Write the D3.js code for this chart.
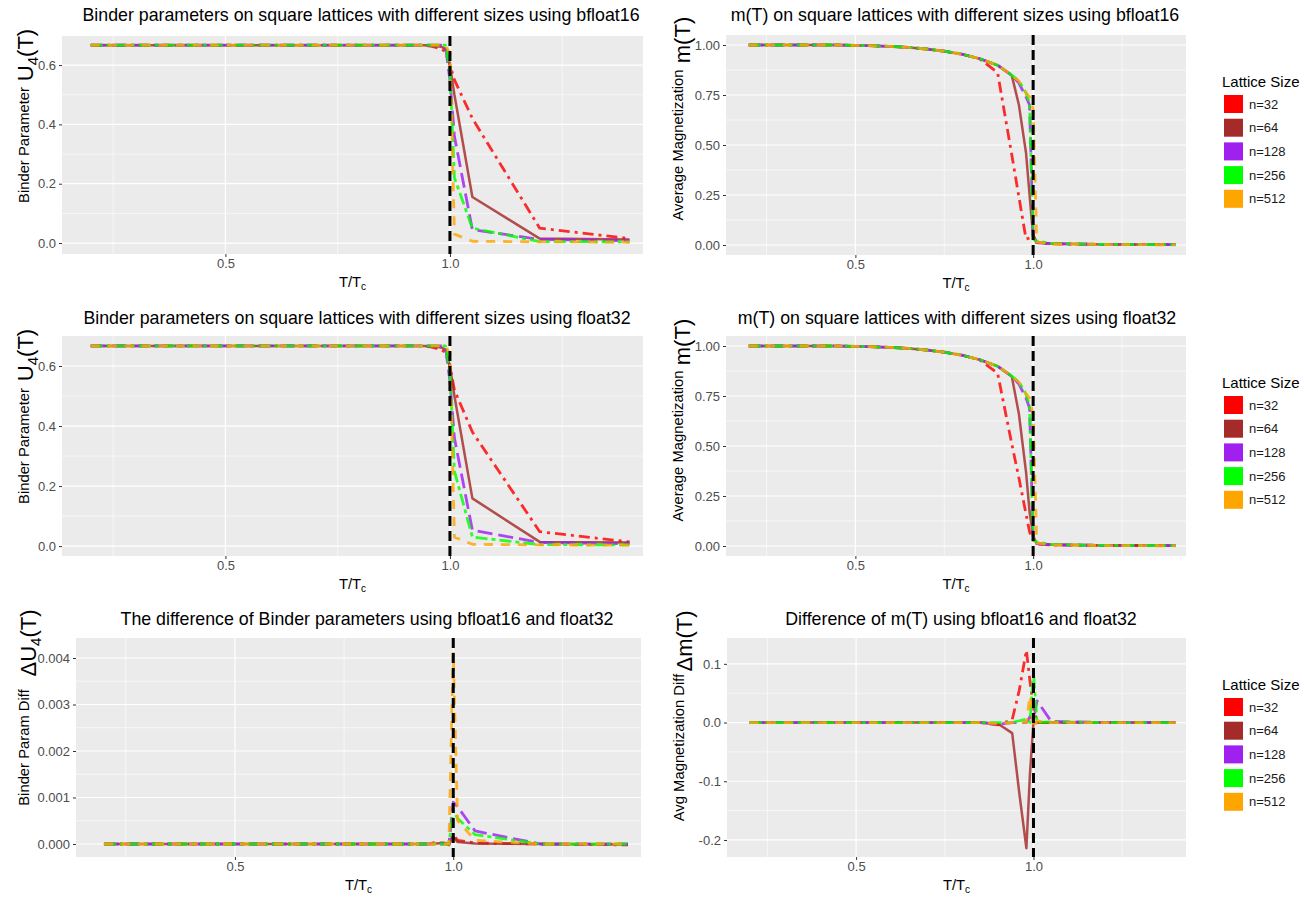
<!DOCTYPE html>
<html>
<head>
<meta charset="utf-8">
<script src="https://cdn.jsdelivr.net/npm/d3@7"></script>
<style>
  body { margin: 0; background: #ffffff; }
  svg { font-family: "Liberation Sans", Arial, Helvetica, sans-serif; }
</style>
</head>
<body>
<svg id="fig" width="1304" height="899"></svg>
<script>
// Reduced temperature grid T/Tc shared by every curve
const tOverTc = [0.2, 0.25, 0.3, 0.35, 0.4, 0.45, 0.5, 0.55, 0.6, 0.65, 0.7, 0.75, 0.8, 0.85,
                 0.9, 0.94, 0.96, 0.98, 0.99, 1.0, 1.01, 1.05, 1.2, 1.4];

const sizeLabels = ["n=32", "n=64", "n=128", "n=256", "n=512"];
const sizeColors = ["#FF0000", "#A52A2A", "#A020F0", "#00FF00", "#FFA500"];

// Binder parameter U4(T), bfloat16 runs (one row per lattice size)
const binderBf16 = [
  [0.667,0.667,0.667,0.667,0.667,0.667,0.667,0.667,0.667,0.667,0.667,0.667,0.667,0.667,0.667,0.667,0.663,0.655,0.645,0.600,0.550,0.420,0.050,0.015],
  [0.667,0.667,0.667,0.667,0.667,0.667,0.667,0.667,0.667,0.667,0.667,0.667,0.667,0.667,0.667,0.667,0.666,0.662,0.655,0.600,0.500,0.155,0.015,0.012],
  [0.667,0.667,0.667,0.667,0.667,0.667,0.667,0.667,0.667,0.667,0.667,0.667,0.667,0.667,0.667,0.667,0.667,0.667,0.665,0.550,0.360,0.045,0.012,0.008],
  [0.667,0.667,0.667,0.667,0.667,0.667,0.667,0.667,0.667,0.667,0.667,0.667,0.667,0.667,0.667,0.667,0.667,0.667,0.667,0.580,0.220,0.050,0.005,0.004],
  [0.667,0.667,0.667,0.667,0.667,0.667,0.667,0.667,0.667,0.667,0.667,0.667,0.667,0.667,0.667,0.667,0.667,0.667,0.667,0.640,0.030,0.006,0.004,0.003]
];

// Binder parameter U4(T), float32 runs
const binderF32 = [
  [0.667,0.667,0.667,0.667,0.667,0.667,0.667,0.667,0.667,0.667,0.667,0.667,0.667,0.667,0.667,0.667,0.663,0.655,0.645,0.600,0.520,0.380,0.048,0.014],
  [0.667,0.667,0.667,0.667,0.667,0.667,0.667,0.667,0.667,0.667,0.667,0.667,0.667,0.667,0.667,0.667,0.666,0.662,0.655,0.600,0.500,0.159,0.014,0.012],
  [0.667,0.667,0.667,0.667,0.667,0.667,0.667,0.667,0.667,0.667,0.667,0.667,0.667,0.667,0.667,0.667,0.667,0.667,0.665,0.550,0.360,0.053,0.012,0.008],
  [0.667,0.667,0.667,0.667,0.667,0.667,0.667,0.667,0.667,0.667,0.667,0.667,0.667,0.667,0.667,0.667,0.667,0.667,0.667,0.580,0.250,0.030,0.005,0.004],
  [0.667,0.667,0.667,0.667,0.667,0.667,0.667,0.667,0.667,0.667,0.667,0.667,0.667,0.667,0.667,0.667,0.667,0.667,0.667,0.640,0.030,0.006,0.004,0.003]
];

// Average magnetization m(T), bfloat16 runs
const magBf16 = [
  [1.000,1.000,1.000,1.000,1.000,1.000,0.998,0.996,0.993,0.988,0.980,0.969,0.954,0.931,0.862,0.450,0.240,0.030,0.035,0.050,0.012,0.006,0.003,0.002],
  [1.000,1.000,1.000,1.000,1.000,1.000,0.998,0.996,0.993,0.988,0.980,0.969,0.954,0.931,0.899,0.847,0.700,0.460,0.250,0.040,0.012,0.007,0.003,0.002],
  [1.000,1.000,1.000,1.000,1.000,1.000,0.998,0.996,0.993,0.988,0.980,0.969,0.954,0.931,0.899,0.849,0.810,0.740,0.700,0.040,0.012,0.006,0.003,0.002],
  [1.000,1.000,1.000,1.000,1.000,1.000,0.998,0.996,0.993,0.988,0.980,0.969,0.954,0.931,0.899,0.849,0.820,0.760,0.710,0.030,0.020,0.008,0.003,0.002],
  [1.000,1.000,1.000,1.000,1.000,1.000,0.998,0.996,0.993,0.988,0.980,0.969,0.954,0.931,0.899,0.849,0.820,0.760,0.740,0.680,0.015,0.005,0.002,0.001]
];

// Average magnetization m(T), float32 runs
const magF32 = [
  [1.000,1.000,1.000,1.000,1.000,1.000,0.998,0.996,0.993,0.988,0.980,0.969,0.954,0.931,0.864,0.510,0.340,0.160,0.070,0.030,0.010,0.005,0.003,0.002],
  [1.000,1.000,1.000,1.000,1.000,1.000,0.998,0.996,0.993,0.988,0.980,0.969,0.954,0.931,0.899,0.847,0.660,0.370,0.170,0.050,0.012,0.007,0.003,0.002],
  [1.000,1.000,1.000,1.000,1.000,1.000,0.998,0.996,0.993,0.988,0.980,0.969,0.954,0.931,0.899,0.849,0.810,0.740,0.690,0.040,0.012,0.006,0.003,0.002],
  [1.000,1.000,1.000,1.000,1.000,1.000,0.998,0.996,0.993,0.988,0.980,0.969,0.954,0.931,0.899,0.849,0.820,0.760,0.700,0.030,0.020,0.008,0.003,0.002],
  [1.000,1.000,1.000,1.000,1.000,1.000,0.998,0.996,0.993,0.988,0.980,0.969,0.954,0.931,0.899,0.849,0.820,0.760,0.740,0.660,0.015,0.005,0.002,0.001]
];

// Binder parameter difference (bfloat16 - float32)
const binderDiff = [
  [0,0,0,0,0,0,0,0,0,0,0,0,0,0,0,0,0.00003,0.00002,-0.00002,0.00020,0.00008,0.00002,0,-0.00002],
  [0,0,0,0,0,0,0,0,0,0,0,0,0,0,0,0,0.00001,0.00002,-0.00001,0.00016,0.00004,0.00001,0,-0.00001],
  [0,0,0,0,0,0,0,0,0,0,0,0,0,0,0,0,0,0,0,0.00090,0.00080,0.00028,0,0],
  [0,0,0,0,0,0,0,0,0,0,0,0,0,0,0,0,0,0,0,0.00072,0.00055,0.00020,0,0],
  [0,0,0,0,0,0,0,0,0,0,0,0,0,0,0,0,0,0,0,0.00410,0.00050,0.00008,0,0]
];

// Magnetization difference (bfloat16 - float32)
const magDiff = [
  [0,0,0,0,0,0,0,0,0,0,0,0,0,0,-0.004,0.005,0.055,0.123,0.071,0.025,0,0,0,0],
  [0,0,0,0,0,0,0,0,0,0,0,0,0,0,-0.002,-0.018,-0.120,-0.214,-0.088,0,0,0,0,0],
  [0,0,0,0,0,0,0,0,0,0,0,0,0,0,-0.003,0,0,0,0.010,0.005,0.037,0.002,0,0],
  [0,0,0,0,0,0,0,0,0,0,0,0,0,0,0,0,0.003,0.006,0,0.085,0,0.001,0,0],
  [0,0,0,0,0,0,0,0,0,0,0,0,0,0,-0.002,0,0.001,0,0.045,-0.010,0.003,0,0,0]
];

const xMajor = [0.5, 1.0];
const xMinor = [0.25, 0.75, 1.25];
const tCritical = 1.0;

const binderTicks = [0, 0.2, 0.4, 0.6];
const magTicks = [0, 0.25, 0.5, 0.75, 1.0];
const binderDiffTicks = [0, 0.001, 0.002, 0.003, 0.004];
const magDiffTicks = [-0.2, -0.1, 0, 0.1];

// ---------------------------------------------------------------------------
const svg = d3.select("#fig");
const xDomain = [0.136, 1.43];
const dashes = ["11,5,3,5", null, "15,6", "12,4,4,4", "9,8"];
const widths = [2.8, 2.5, 2.8, 2.8, 2.8];
const FONT_TITLE = 17.8, FONT_AXIS = 14.8, FONT_TICK = 13, FONT_LEGEND_TITLE = 15;

function midpoints(ticks) {
  const out = [];
  for (let i = 0; i < ticks.length - 1; i++) out.push((ticks[i] + ticks[i + 1]) / 2);
  return out;
}

function drawPanel(p) {
  const x = d3.scaleLinear().domain(xDomain).range([p.left, p.right]);
  const y = d3.scaleLinear().domain(p.yDomain).range([p.bottom, p.top]);
  const g = svg.append("g");

  g.append("rect")
    .attr("x", p.left).attr("y", p.top)
    .attr("width", p.right - p.left).attr("height", p.bottom - p.top)
    .attr("fill", "#EBEBEB");

  // grid
  const grid = g.append("g");
  grid.selectAll(".ymin").data(midpoints(p.yTicks)).join("line")
    .attr("x1", p.left).attr("x2", p.right)
    .attr("y1", d => y(d)).attr("y2", d => y(d))
    .attr("stroke", "#fff").attr("stroke-width", 0.6);
  grid.selectAll(".xmin").data(xMinor).join("line")
    .attr("y1", p.top).attr("y2", p.bottom)
    .attr("x1", d => x(d)).attr("x2", d => x(d))
    .attr("stroke", "#fff").attr("stroke-width", 0.6);
  grid.selectAll(".ymaj").data(p.yTicks).join("line")
    .attr("x1", p.left).attr("x2", p.right)
    .attr("y1", d => y(d)).attr("y2", d => y(d))
    .attr("stroke", "#fff").attr("stroke-width", 1.2);
  grid.selectAll(".xmaj").data(xMajor).join("line")
    .attr("y1", p.top).attr("y2", p.bottom)
    .attr("x1", d => x(d)).attr("x2", d => x(d))
    .attr("stroke", "#fff").attr("stroke-width", 1.2);

  // axes
  const yAxis = d3.axisLeft(y).tickValues(p.yTicks).tickSize(3).tickPadding(3)
    .tickFormat(d => d.toFixed(p.digits));
  const ya = g.append("g").attr("transform", `translate(${p.left},0)`).call(yAxis);
  const xAxis = d3.axisBottom(x).tickValues(xMajor).tickSize(3).tickPadding(2)
    .tickFormat(d => d.toFixed(1));
  const xa = g.append("g").attr("transform", `translate(0,${p.bottom})`).call(xAxis);
  [ya, xa].forEach(a => {
    a.select(".domain").remove();
    a.selectAll(".tick line").attr("stroke", "#333333").attr("stroke-width", 1);
    a.selectAll(".tick text").attr("fill", "#4D4D4D").attr("font-size", FONT_TICK)
      .attr("font-family", "Liberation Sans, Arial, sans-serif");
  });

  // curves
  const line = d3.line().x(d => x(d[0])).y(d => y(d[1]));
  p.series.forEach((vals, i) => {
    const pts = tOverTc.map((t, k) => [t, vals[k]]);
    g.append("path").datum(pts)
      .attr("d", line)
      .attr("fill", "none")
      .attr("stroke", sizeColors[i])
      .attr("stroke-opacity", 0.82)
      .attr("stroke-width", widths[i])
      .attr("stroke-linejoin", "round")
      .attr("stroke-dasharray", dashes[i]);
  });

  // critical temperature marker
  g.append("line")
    .attr("x1", x(tCritical)).attr("x2", x(tCritical))
    .attr("y1", p.top).attr("y2", p.bottom)
    .attr("stroke", "#000").attr("stroke-width", 3)
    .attr("stroke-dasharray", "10,5");

  // title
  g.append("text").attr("x", p.titleX).attr("y", p.titleY)
    .attr("text-anchor", "middle").attr("font-size", FONT_TITLE).attr("fill", "#000")
    .text(p.title);

  // x axis title T/Tc
  const xt = g.append("text").attr("x", (p.left + p.right) / 2).attr("y", p.bottom + 33)
    .attr("text-anchor", "middle").attr("font-size", FONT_AXIS).attr("fill", "#000");
  xt.append("tspan").text("T/T");
  xt.append("tspan").attr("dy", 3).attr("font-size", 10).text("c");

  // y axis title
  g.append("text")
    .attr("transform", `translate(${p.yTitleX},${(p.top + p.bottom) / 2}) rotate(-90)`)
    .attr("text-anchor", "middle").attr("font-size", FONT_AXIS).attr("fill", "#000")
    .text(p.yTitle);

  // symbol label beside the axis
  const sym = g.append("text")
    .attr("transform", `translate(${p.symX},${p.symY}) rotate(-90)`)
    .attr("text-anchor", "middle").attr("font-size", 22).attr("fill", "#000");
  sym.append("tspan").text(p.sym[0]);
  if (p.sym[1]) sym.append("tspan").attr("dy", 5).attr("font-size", 15).text(p.sym[1]);
  sym.append("tspan").attr("dy", p.sym[1] ? -5 : 0).text(p.sym[2]);

  if (p.legend) drawLegend(p.top);
}

function drawLegend(top) {
  const lg = svg.append("g").attr("transform", `translate(1222,${top})`);
  lg.append("text").attr("x", 0).attr("y", 52).attr("font-size", FONT_LEGEND_TITLE).attr("fill", "#000")
    .text("Lattice Size");
  sizeLabels.forEach((lab, i) => {
    const cy = 69 + i * 23.7;
    lg.append("rect").attr("x", 2).attr("y", cy - 9).attr("width", 19).attr("height", 18)
      .attr("fill", sizeColors[i]);
    lg.append("text").attr("x", 27).attr("y", cy + 4.5).attr("font-size", FONT_TICK)
      .attr("fill", "#1a1a1a").text(lab);
  });
}

const panels = [
  { left: 62, right: 643, top: 36, bottom: 254, yDomain: [-0.037, 0.698], yTicks: binderTicks, digits: 1,
    series: binderBf16, title: "Binder parameters on square lattices with different sizes using bfloat16",
    titleX: 361, titleY: 21, yTitle: "Binder Parameter", yTitleX: 29, sym: ["U", "4", "(T)"], symX: 33, symY: 55 },
  { left: 726, right: 1186, top: 35, bottom: 255, yDomain: [-0.05, 1.05], yTicks: magTicks, digits: 2,
    series: magBf16, title: "m(T) on square lattices with different sizes using bfloat16",
    titleX: 955, titleY: 21, yTitle: "Average Magnetization", yTitleX: 683, sym: ["m", null, "(T)"], symX: 690, symY: 40, legend: true },
  { left: 62, right: 643, top: 336, bottom: 556, yDomain: [-0.033, 0.7], yTicks: binderTicks, digits: 1,
    series: binderF32, title: "Binder parameters on square lattices with different sizes using float32",
    titleX: 357, titleY: 324, yTitle: "Binder Parameter", yTitleX: 29, sym: ["U", "4", "(T)"], symX: 33, symY: 355 },
  { left: 726, right: 1186, top: 336, bottom: 556, yDomain: [-0.05, 1.05], yTicks: magTicks, digits: 2,
    series: magF32, title: "m(T) on square lattices with different sizes using float32",
    titleX: 957, titleY: 324, yTitle: "Average Magnetization", yTitleX: 683, sym: ["m", null, "(T)"], symX: 690, symY: 342, legend: true },
  { left: 76, right: 641, top: 638, bottom: 857, yDomain: [-0.00028, 0.00443], yTicks: binderDiffTicks, digits: 3,
    series: binderDiff, title: "The difference of Binder parameters using bfloat16 and float32",
    titleX: 367, titleY: 625, yTitle: "Binder Param Diff", yTitleX: 29, sym: ["ΔU", "4", "(T)"], symX: 36, symY: 643 },
  { left: 727, right: 1186, top: 638, bottom: 857, yDomain: [-0.229, 0.144], yTicks: magDiffTicks, digits: 1,
    series: magDiff, title: "Difference of m(T) using bfloat16 and float32",
    titleX: 961, titleY: 625, yTitle: "Avg Magnetization Diff", yTitleX: 684, sym: ["Δm", null, "(T)"], symX: 692, symY: 641, legend: true }
];

panels.forEach(drawPanel);
</script>
</body>
</html>
